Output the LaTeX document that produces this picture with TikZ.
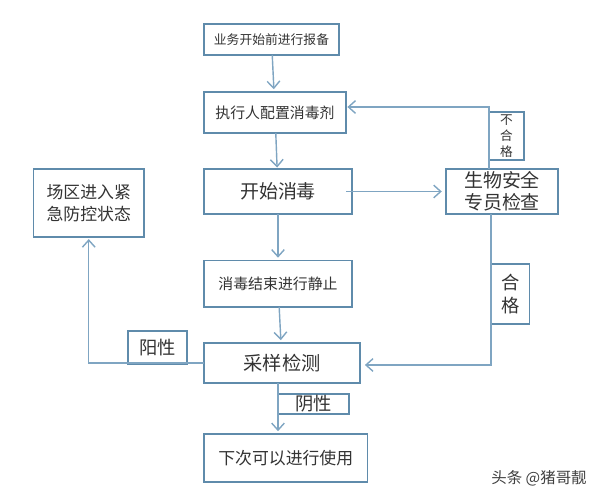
\documentclass[tikz,border=0pt]{standalone}
\usepackage{fontspec}
\setmainfont{Noto Sans CJK SC}
\usepackage{tikz}
\usetikzlibrary{positioning, arrows.meta}

\begin{document}
\begin{tikzpicture}[
    box/.style={rectangle, draw=boxline, line width=1pt, fill=white, text=black!80, inner sep=0pt, outer sep=0pt, align=center},
    arrow/.style={-{Straight Barb[length=5pt,width=9pt]}, draw=arrowline, line width=1pt}
]

% Color definitions
\definecolor{boxline}{HTML}{5F8BAB}
\definecolor{arrowline}{HTML}{7FA5C2}

\useasboundingbox (0,0) rectangle (15,12.5);

% Main column
\node[box, minimum width=3.375cm, minimum height=0.775cm, font=\fontsize{9.1}{11}\selectfont, anchor=west] (report) at (5.1,11.5125) {业务开始前进行报备};
\node[box, minimum width=3.55cm, minimum height=1.025cm, font=\fontsize{10.6}{13}\selectfont, below=0.925cm of report.south west, anchor=north west] (prepare) {执行人配置消毒剂};
\node[box, minimum width=3.7cm, minimum height=1.125cm, font=\fontsize{13.5}{16}\selectfont, below=0.9cm of prepare.south west, anchor=north west] (start) {开始消毒};
\node[box, minimum width=3.7cm, minimum height=1.1625cm, font=\fontsize{10.6}{13}\selectfont, below=1.1625cm of start.south west, anchor=north west] (rest) {消毒结束进行静止};
\node[box, minimum width=3.9cm, minimum height=1cm, font=\fontsize{13.7}{16}\selectfont, below=0.9cm of rest.south west, anchor=north west] (sample) {采样检测};
\node[box, minimum width=4.0875cm, minimum height=1.2cm, font=\fontsize{12}{14}\selectfont, below=1.275cm of sample.south west, anchor=north west] (reuse) {下次可以进行使用};

% Side boxes
\node[box, minimum width=2.7625cm, minimum height=1.7cm, font=\fontsize{12}{15.6}\selectfont, left=1.5cm of start.north west, anchor=north east] (alert) {场区进入紧\\急防控状态};
\node[box, minimum width=2.8cm, minimum height=1.125cm, font=\fontsize{13.5}{15.6}\selectfont, right=2.35cm of start] (check) {生物安全\\专员检查};

% Labels
\node[box, minimum width=0.875cm, minimum height=1.2cm, font=\fontsize{9}{11.4}\selectfont, anchor=south west] (fail) at ([xshift=1.075cm, yshift=0.225cm]check.north west) {不\\合\\格};
\node[box, minimum width=0.9625cm, minimum height=1.5cm, font=\fontsize{13}{16.4}\selectfont, anchor=north west] (pass) at ([xshift=1.125cm, yshift=-1.25cm]check.south west) {合\\格};
\node[box, minimum width=1.475cm, minimum height=0.825cm, font=\fontsize{13}{16}\selectfont, anchor=south east] (positive) at ([xshift=-0.425cm, yshift=-0.525cm]sample.north west) {阳性};
\node[box, minimum width=1.775cm, minimum height=0.5cm, font=\fontsize{13}{16}\selectfont, anchor=north west] (negative) at ([xshift=1.85cm, yshift=-0.275cm]sample.south west) {阴性};
\node[text=black!75, font=\fontsize{11}{13}\selectfont] (mark) at (13.475,0.55) {头条 @猪哥靓};

% Turning points
\coordinate (failturn) at ([yshift=0.125cm]fail.north west);
\coordinate (passturn) at ([yshift=-1.025cm]pass.south west);

% Connections
\draw[arrow, shorten >=2pt] (report) -- (prepare);
\draw[arrow, shorten >=1pt] (prepare) -- (start);
\draw[arrow, shorten >=2pt] (start) -- (rest);
\draw[arrow, shorten >=2pt] (rest) -- (sample);
\draw[arrow, shorten >=2pt] (sample.south -| negative.west) -- (reuse.north -| negative.west);
\draw[arrow, shorten >=3pt] ([xshift=-0.15cm]start.east) -- (check.west);
\draw[arrow, shorten >=1pt] (check.north -| fail.west) -- (failturn) -- (failturn -| prepare.east);
\draw[arrow, shorten >=3.5pt] (check.south -| pass.west) -- (passturn) -- (passturn -| sample.east);
\draw[arrow, shorten >=1.5pt] (sample.west) -- (sample.west -| alert.south) -- (alert.south);

\end{tikzpicture}
\end{document}
